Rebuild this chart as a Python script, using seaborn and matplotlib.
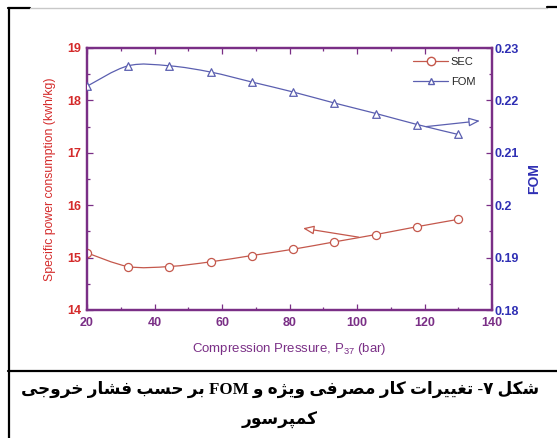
import numpy as np
import pandas as pd
import seaborn as sns
import matplotlib
matplotlib.use("Agg")
import matplotlib.pyplot as plt
from matplotlib.path import Path
from matplotlib.patches import PathPatch
from matplotlib.lines import Line2D
from matplotlib.ticker import MultipleLocator

# ---- data -------------------------------------------------------------
pressure = [20.0, 32.2, 44.4, 56.7, 68.9, 81.1, 93.3, 105.6, 117.8, 130.0]
sec = [15.09, 14.83, 14.83, 14.92, 15.04, 15.16, 15.30, 15.44, 15.59, 15.73]
fom = [0.2227, 0.2266, 0.2266, 0.2254, 0.2235, 0.2216, 0.2195, 0.2175, 0.2154, 0.2135]
series_names = ["SEC", "FOM"]
x_ticks = [20, 40, 60, 80, 100, 120, 140]
sec_ticks = [14, 15, 16, 17, 18, 19]
fom_ticks = [0.18, 0.19, 0.2, 0.21, 0.22, 0.23]
fom_tick_labels = ["0.18", "0.19", "0.2", "0.21", "0.22", "0.23"]
caption_lines = ["شکل ۷- تغییرات کار مصرفی ویژه و FOM بر حسب فشار خروجی", "کمپرسور"]

df = pd.DataFrame({"P": pressure, "SEC": sec, "FOM": fom})

# ---- colours ----------------------------------------------------------
C_SEC = "#c4584c"
C_SEC_TXT = "#d42a2a"
C_FOM = "#5b5fb0"
C_FOM_TXT = "#2f2fb4"
C_AX = "#7a2f86"

# ---- minimal Arabic-script shaping (contextual forms + visual order) --
FORMS = {
    "ا": ("\uFE8D", "\uFE8E", None, None),
    "ب": ("\uFE8F", "\uFE90", "\uFE91", "\uFE92"),
    "پ": ("\uFB56", "\uFB57", "\uFB58", "\uFB59"),
    "ت": ("\uFE95", "\uFE96", "\uFE97", "\uFE98"),
    "ج": ("\uFE9D", "\uFE9E", "\uFE9F", "\uFEA0"),
    "ح": ("\uFEA1", "\uFEA2", "\uFEA3", "\uFEA4"),
    "خ": ("\uFEA5", "\uFEA6", "\uFEA7", "\uFEA8"),
    "د": ("\uFEA9", "\uFEAA", None, None),
    "ر": ("\uFEAD", "\uFEAE", None, None),
    "ز": ("\uFEAF", "\uFEB0", None, None),
    "ژ": ("\uFB8A", "\uFB8B", None, None),
    "س": ("\uFEB1", "\uFEB2", "\uFEB3", "\uFEB4"),
    "ش": ("\uFEB5", "\uFEB6", "\uFEB7", "\uFEB8"),
    "ص": ("\uFEB9", "\uFEBA", "\uFEBB", "\uFEBC"),
    "غ": ("\uFECD", "\uFECE", "\uFECF", "\uFED0"),
    "ف": ("\uFED1", "\uFED2", "\uFED3", "\uFED4"),
    "ک": ("\uFB8E", "\uFB8F", "\uFB90", "\uFB91"),
    "ل": ("\uFEDD", "\uFEDE", "\uFEDF", "\uFEE0"),
    "م": ("\uFEE1", "\uFEE2", "\uFEE3", "\uFEE4"),
    "ه": ("\uFEE9", "\uFEEA", "\uFEEB", "\uFEEC"),
    "و": ("\uFEED", "\uFEEE", None, None),
    "ی": ("\uFBFC", "\uFBFD", "\uFBFE", "\uFBFF"),
}


def shape_word(word):
    out = []
    for i, ch in enumerate(word):
        if ch not in FORMS:
            out.append(ch)
            continue
        isol, fin, ini, med = FORMS[ch]
        prev = word[i - 1] if i > 0 else None
        nxt = word[i + 1] if i + 1 < len(word) else None
        joins_prev = prev in FORMS and FORMS[prev][2] is not None
        joins_next = nxt in FORMS and ini is not None
        if joins_prev and joins_next:
            out.append(med)
        elif joins_prev:
            out.append(fin)
        elif joins_next:
            out.append(ini)
        else:
            out.append(isol)
    return "".join(out)


def rtl_line(text):
    words = text.split(" ")
    vis = []
    for w in reversed(words):
        if any(c in FORMS or "\u06F0" <= c <= "\u06F9" for c in w):
            vis.append(shape_word(w)[::-1])
        else:
            vis.append(w)
    return " ".join(vis)


def smooth_path(xs, ys):
    # Catmull-Rom curve through the points, written as cubic Bezier segments
    pts = np.column_stack([xs, ys])
    ext = np.vstack([pts[0], pts, pts[-1]])
    verts = [tuple(pts[0])]
    codes = [Path.MOVETO]
    for i in range(1, len(ext) - 2):
        p0, p1, p2, p3 = ext[i - 1], ext[i], ext[i + 1], ext[i + 2]
        c1 = p1 + (p2 - p0) / 6.0
        c2 = p2 - (p3 - p1) / 6.0
        verts += [tuple(c1), tuple(c2), tuple(p2)]
        codes += [Path.CURVE4] * 3
    return Path(verts, codes)


# ---- figure -----------------------------------------------------------
sns.set_theme(style="white")
plt.rcParams["font.family"] = ["Liberation Sans", "DejaVu Sans"]
plt.rcParams["mathtext.fontset"] = "custom"
plt.rcParams["mathtext.rm"] = "Liberation Sans"
plt.rcParams["mathtext.it"] = "Liberation Sans"

fig = plt.figure(figsize=(5.57, 4.38), dpi=100)
fig.patch.set_facecolor("white")
W, H = 557.0, 438.0
ax = fig.add_axes([87 / W, 1 - 310 / H, (492 - 87) / W, (310 - 48) / H])
ax2 = ax.twinx()

# SEC on the left axis
ax.add_patch(PathPatch(smooth_path(df["P"], df["SEC"]), fill=False, ec=C_SEC, lw=0.9))
sns.scatterplot(data=df, x="P", y="SEC", ax=ax, marker="o", s=34,
                facecolor="white", edgecolor=C_SEC, linewidth=0.9, zorder=3)

# FOM on the right axis
ax2.add_patch(PathPatch(smooth_path(df["P"], df["FOM"]), fill=False, ec=C_FOM, lw=0.9))
sns.scatterplot(data=df, x="P", y="FOM", ax=ax2, marker="^", s=30,
                facecolor="white", edgecolor=C_FOM, linewidth=0.9, zorder=3)

ax.set_xlim(20, 140)
ax.set_ylim(14, 19)
ax2.set_ylim(0.18, 0.23)

ax.set_xticks(x_ticks)
ax.set_yticks(sec_ticks)
ax2.set_yticks(fom_ticks)
ax2.set_yticklabels(fom_tick_labels)
ax.xaxis.set_minor_locator(MultipleLocator(10))
ax.yaxis.set_minor_locator(MultipleLocator(0.5))
ax2.yaxis.set_minor_locator(MultipleLocator(0.005))

for a in (ax, ax2):
    for s in a.spines.values():
        s.set_color(C_AX)
        s.set_linewidth(1.6)
    a.grid(False)

ax.tick_params(axis="x", which="both", direction="in", top=True, bottom=True,
               colors=C_AX, labelsize=9, pad=5)
ax.tick_params(axis="x", which="major", length=4, width=0.9)
ax.tick_params(axis="x", which="minor", length=2.5, width=0.9)
ax.tick_params(axis="y", which="both", direction="in", left=True, right=False,
               color=C_AX, labelcolor=C_SEC_TXT, labelsize=9, pad=4)
ax.tick_params(axis="y", which="major", length=4, width=0.9)
ax.tick_params(axis="y", which="minor", length=2.5, width=0.9)
ax2.tick_params(axis="y", which="both", direction="in", right=True,
                color=C_AX, labelcolor=C_FOM_TXT, labelsize=9, pad=2)
ax2.tick_params(axis="y", which="major", length=4, width=0.9)
ax2.tick_params(axis="y", which="minor", length=2.5, width=0.9)
for lab in ax.get_xticklabels() + ax.get_yticklabels() + ax2.get_yticklabels():
    lab.set_fontweight("bold")

ax.set_xlabel("Compression Pressure, P$_{37}$ (bar)", color=C_AX, fontsize=9.5, labelpad=9)
ax.set_ylabel("Specific power consumption (kwh/kg)", color=C_SEC_TXT, fontsize=8.8, labelpad=8)
ax2.set_ylabel("FOM", color=C_FOM_TXT, fontsize=10, fontweight="bold", labelpad=6)

# arrows pointing each curve to its own axis
ax.annotate("", xy=(84.0, 15.56), xytext=(100.5, 15.39),
            arrowprops=dict(arrowstyle="-|>,head_length=0.55,head_width=0.22",
                            fc="white", ec=C_SEC, lw=0.9, shrinkA=0, shrinkB=0))
ax2.annotate("", xy=(136.4, 0.2161), xytext=(120.5, 0.2150),
             arrowprops=dict(arrowstyle="-|>,head_length=0.55,head_width=0.22",
                             fc="white", ec=C_FOM, lw=0.9, shrinkA=0, shrinkB=0))

handles = [
    Line2D([], [], color=C_SEC, lw=0.9, marker="o", ms=6, mfc="white", mec=C_SEC),
    Line2D([], [], color=C_FOM, lw=0.9, marker="^", ms=5, mfc="white", mec=C_FOM),
]
ax2.legend(handles, series_names, loc="upper right", bbox_to_anchor=(0.975, 0.99),
           frameon=False, fontsize=8, handlelength=3.2, handletextpad=0.2,
           labelspacing=0.9, borderaxespad=0.2)

# table frame around the figure and caption
def hline(x0, x1, y, color="black", lw=1.6):
    fig.add_artist(Line2D([x0 / W, x1 / W], [1 - y / H, 1 - y / H], color=color,
                          lw=lw, transform=fig.transFigure))

fig.add_artist(Line2D([8.5 / W, 8.5 / W], [1 - 7.5 / H, 0], color="black", lw=1.6,
                      transform=fig.transFigure))
hline(7.5, 30, 7.8)
hline(30, 547, 8.2, color="#c8c8c8", lw=1.0)
hline(547, 557, 7.3)
hline(8, 557, 370.5)

cap_font = ["Liberation Serif", "DejaVu Sans"]
fig.text(280 / W, 1 - 389 / H, rtl_line(caption_lines[0]), ha="center", va="center",
         fontsize=12.2, fontweight="bold", family=cap_font, color="black")
fig.text(280 / W, 1 - 420 / H, rtl_line(caption_lines[1]), ha="center", va="center",
         fontsize=12.2, fontweight="bold", family=cap_font, color="black")

fig.savefig("out.png", dpi=100, facecolor="white")
